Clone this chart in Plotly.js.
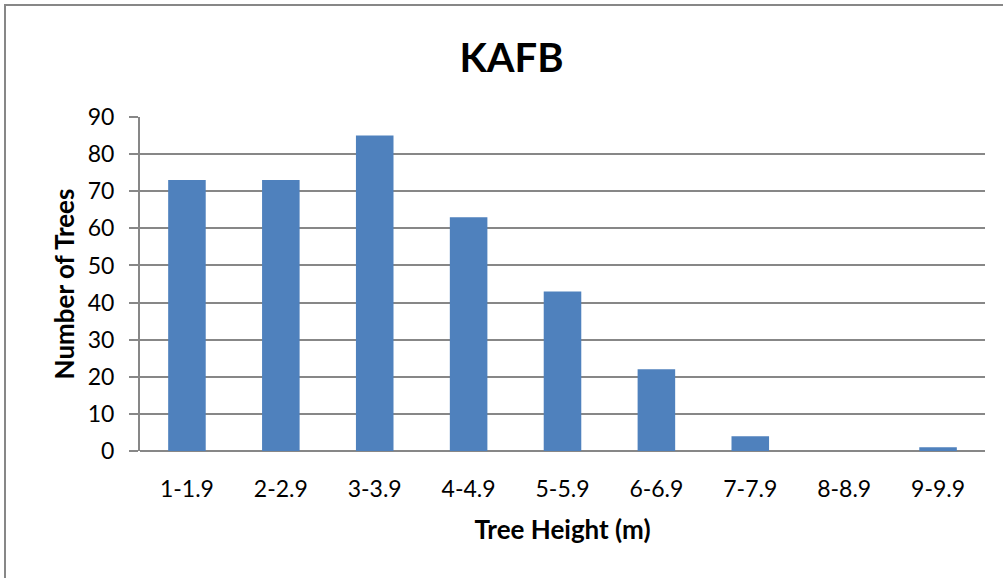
<!DOCTYPE html>
<html>
<head>
<meta charset="utf-8">
<script src="https://cdn.plot.ly/plotly-3.0.1.min.js"></script>
<style>
  body { margin: 0; padding: 0; background: #fff; }
  #chart { width: 1003px; height: 578px; position: absolute; left: 0; top: 0; }
  #frame { position: absolute; left: 4px; top: 4px; width: 1100px; height: 700px; border: 2px solid #878787; pointer-events: none; }
</style>
</head>
<body>
<div id="chart"></div>
<div id="frame"></div>
<script>
const categories = ["1-1.9", "2-2.9", "3-3.9", "4-4.9", "5-5.9", "6-6.9", "7-7.9", "8-8.9", "9-9.9"];
const treeCounts = [73, 73, 85, 63, 43, 22, 4, 0, 1];
const yTicks = [0, 10, 20, 30, 40, 50, 60, 70, 80, 90];

const font = "Lato, Open Sans, sans-serif";

Plotly.newPlot("chart", [{
  type: "bar",
  x: categories,
  y: treeCounts,
  marker: { color: "#4f81bd", line: { color: "#4f81bd", width: 0 } },
  hoverinfo: "x+y"
}], {
  width: 1003,
  height: 578,
  paper_bgcolor: "#ffffff",
  plot_bgcolor: "#ffffff",
  margin: { l: 140, r: 18, t: 117, b: 127 },
  bargap: 0.6,
  showlegend: false,
  title: {
    text: "<b>KAFB</b>",
    font: { family: font, size: 40, color: "#000" },
    x: 0.51, xanchor: "center",
    y: 0.9, yanchor: "middle"
  },
  xaxis: {
    type: "category",
    tickfont: { family: font, size: 23, color: "#000" },
    showgrid: false,
    showline: false,
    ticks: "outside",
    ticklen: 17,
    tickcolor: "rgba(0,0,0,0)",
    title: { text: "<b>Tree Height (m)</b>", font: { family: font, size: 26, color: "#000" }, standoff: 20 },
    fixedrange: true
  },
  yaxis: {
    range: [0, 90],
    tickvals: yTicks,
    ticktext: yTicks.map(String),
    tickfont: { family: font, size: 23, color: "#000" },
    showgrid: true,
    gridcolor: "#878787",
    gridwidth: 2,
    showline: true,
    linecolor: "#878787",
    linewidth: 2,
    ticks: "outside",
    ticklen: 9,
    tickcolor: "#878787",
    tickwidth: 2,
    ticklabelstandoff: 10,
    zeroline: true,
    zerolinecolor: "#878787",
    zerolinewidth: 2,
    title: { text: "<b>Number of Trees</b>", font: { family: font, size: 26, color: "#000" }, standoff: 6 },
    fixedrange: true
  }
}, { displayModeBar: false, staticPlot: true });
</script>
</body>
</html>
